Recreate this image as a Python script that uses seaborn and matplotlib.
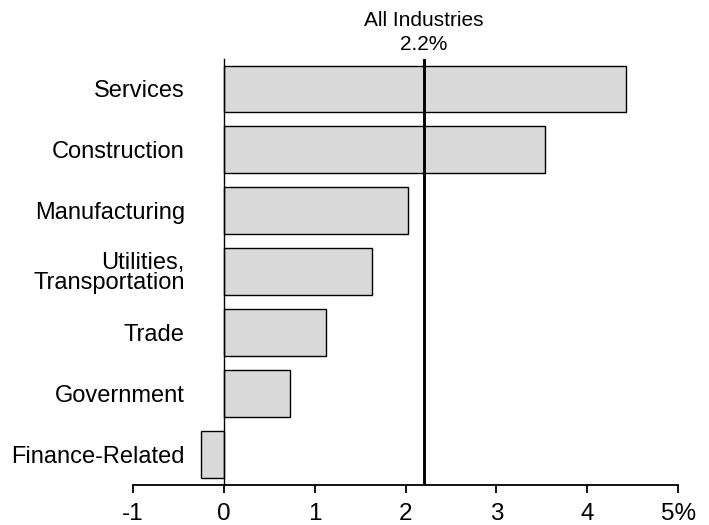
import pandas as pd
import matplotlib.pyplot as plt
import seaborn as sns

# Values (percent change)
industries = ['Services', 'Construction', 'Manufacturing', 'Utilities,\nTransportation',
              'Trade', 'Government', 'Finance-Related']
growth = [4.43, 3.53, 2.03, 1.63, 1.13, 0.73, -0.25]
all_industries = 2.2
x_ticks = [-1, 0, 1, 2, 3, 4, 5]
x_labels = ['-1', '0', '1', '2', '3', '4', '5%']

df = pd.DataFrame({'industry': industries, 'growth': growth})

sns.set_style('white')
plt.rcParams['font.family'] = ['Liberation Sans', 'DejaVu Sans']
plt.rcParams['text.color'] = 'black'
plt.rcParams['xtick.color'] = 'black'
plt.rcParams['ytick.color'] = 'black'

fig = plt.figure(figsize=(7.09, 5.25), dpi=100)
ax = fig.add_axes([0.1873, 0.0771, 0.7694, 0.8114])

sns.barplot(data=df, x='growth', y='industry', orient='h', color='#d9d9d9',
            saturation=1, edgecolor='black', linewidth=1.0, width=0.77, ax=ax)

# All industries reference line
ax.axvline(all_industries, color='black', linewidth=2.1)
ax.text(all_industries, -0.58, f'All Industries\n{all_industries}%', ha='center', va='bottom',
        fontsize=15, linespacing=1.3)

ax.set_xlim(-1, 5)
ax.set_ylim(6.5, -0.5)
ax.set_xticks(x_ticks)
ax.set_xticklabels(x_labels, fontsize=17.5)
ax.set_xlabel('')
ax.set_ylabel('')

for s in ['top', 'right']:
    ax.spines[s].set_visible(False)
ax.spines['left'].set_position(('data', 0))
ax.spines['left'].set_color('black')
ax.spines['left'].set_linewidth(1.0)
ax.spines['bottom'].set_color('black')
ax.spines['bottom'].set_linewidth(1.3)

ax.tick_params(axis='x', bottom=True, direction='out', length=6, width=1.3,
               color='black', pad=7)
ax.tick_params(axis='y', left=False, length=0, pad=28, labelsize=17)
for lab in ax.get_yticklabels():
    if '\n' in lab.get_text():
        lab.set_linespacing(0.9)

fig.savefig('out.png', dpi=100, facecolor='white')
